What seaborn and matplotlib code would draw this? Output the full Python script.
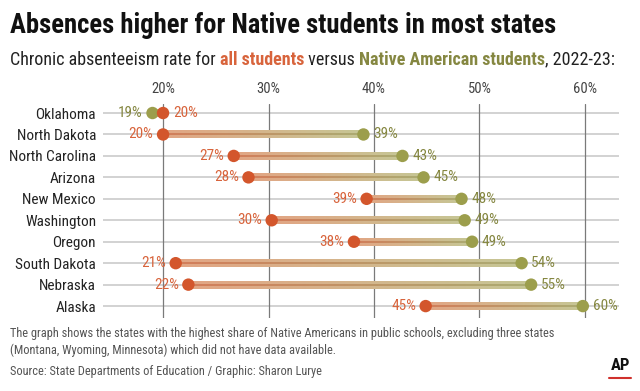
import numpy as np
import pandas as pd
import matplotlib
matplotlib.use("Agg")
import matplotlib.pyplot as plt
from matplotlib import font_manager
from matplotlib.collections import LineCollection
from matplotlib.colors import to_rgb
import seaborn as sns

states = ["Oklahoma", "North Dakota", "North Carolina", "Arizona", "New Mexico",
          "Washington", "Oregon", "South Dakota", "Nebraska", "Alaska"]
all_students = [20.0, 20.0, 26.7, 28.1, 39.3, 30.3, 38.1, 21.2, 22.4, 44.9]
native_students = [19.0, 39.0, 42.7, 44.7, 48.3, 48.6, 49.3, 54.0, 54.9, 59.8]
ticks = [20, 30, 40, 50, 60]

ORANGE = "#d3562c"
GREEN = "#9c9e4c"
ORANGE_TXT = "#d8643c"
GREEN_TXT = "#858741"

# pick a condensed face if one is installed
available = {f.name for f in font_manager.fontManager.ttflist}
FONT = "Roboto"
for cand in ["Roboto Condensed", "Barlow Semi Condensed", "Fira Sans Condensed",
             "IBM Plex Sans Condensed", "Archivo Narrow", "Asap Condensed",
             "Liberation Sans Narrow"]:
    if cand in available:
        FONT = cand
        break

sns.set_theme(style="white")
plt.rcParams["font.family"] = [FONT, "DejaVu Sans"]

df = pd.DataFrame({"state": states, "all": all_students, "native": native_students})
df["row"] = range(len(df))

fig = plt.figure(figsize=(6.4, 3.91), dpi=100)
ax = fig.add_axes([0.161, 0.187, 0.806, 0.547])

# background grid
for r in df["row"]:
    ax.axhline(r, color="#cfcfcf", lw=1.3, zorder=0)
for t in ticks:
    ax.axvline(t, color="#7a7a7a", lw=0.9, zorder=1)

# gradient connector bars (opaque, pre-blended colours)
o_out, g_out = np.array(to_rgb("#e2a483")), np.array(to_rgb("#c6c594"))
o_in, g_in = np.array(to_rgb("#d27d5a")), np.array(to_rgb("#abab72"))
for _, d in df.iterrows():
    xs = np.linspace(d["all"], d["native"], 80)
    segs = [[(xs[i], d["row"]), (xs[i + 1], d["row"])] for i in range(len(xs) - 1)]
    fr = np.linspace(0, 1, len(segs))[:, None]
    ax.add_collection(LineCollection(segs, colors=o_out * (1 - fr) + g_out * fr,
                                     linewidths=4.5, zorder=2, capstyle="projecting",
                                     antialiased=False))
    ax.add_collection(LineCollection(segs, colors=o_in * (1 - fr) + g_in * fr,
                                     linewidths=1.4, zorder=2, capstyle="projecting",
                                     antialiased=False))

sns.scatterplot(data=df, x="native", y="row", color=GREEN, s=80, edgecolor="none",
                ax=ax, zorder=3, legend=False)
sns.scatterplot(data=df, x="all", y="row", color=ORANGE, s=80, edgecolor="none",
                ax=ax, zorder=4, legend=False)

for _, d in df.iterrows():
    right_native = d["native"] >= d["all"]
    ax.annotate(f"{int(d['all'] + 0.5)}%", (d["all"], d["row"]),
                xytext=(-7 if right_native else 7, 0), textcoords="offset points",
                ha="right" if right_native else "left", va="center",
                color=ORANGE_TXT, fontsize=11)
    ax.annotate(f"{int(d['native'] + 0.5)}%", (d["native"], d["row"]),
                xytext=(7 if right_native else -7, 0), textcoords="offset points",
                ha="left" if right_native else "right", va="center",
                color=GREEN_TXT, fontsize=11)

ax.set_xlim(14.31, 63.22)
ax.set_ylim(9.55, -0.42)
ax.set_xticks(ticks)
ax.set_xticklabels([f"{t}%" for t in ticks])
ax.xaxis.tick_top()
ax.tick_params(axis="x", length=0, pad=6, labelsize=10.5, labelcolor="#444444")
ax.set_yticks(df["row"])
ax.set_yticklabels(states)
ax.tick_params(axis="y", length=0, pad=5, labelsize=11, labelcolor="#222222")
ax.set_xlabel("")
ax.set_ylabel("")
for s in ax.spines.values():
    s.set_visible(False)

fig.text(0.016, 0.935, "Absences higher for Native students in most states",
         fontsize=19.2, fontweight="bold", color="#111111", va="center")

# subtitle with coloured words
sub_parts = [("Chronic absenteeism rate for ", "#222222", "normal"),
             ("all students", ORANGE_TXT, "bold"),
             (" versus ", "#222222", "normal"),
             ("Native American students", GREEN_TXT, "bold"),
             (", 2022-23:", "#222222", "normal")]
fig.canvas.draw()
renderer = fig.canvas.get_renderer()
x = 0.016
for txt, col, w in sub_parts:
    t = fig.text(x, 0.847, txt, fontsize=13, color=col, fontweight=w, va="center")
    bb = t.get_window_extent(renderer=renderer)
    x += bb.width / fig.bbox.width

fig.text(0.016, 0.148, "The graph shows the states with the highest share of Native Americans in public schools, excluding three states",
         fontsize=8.9, color="#555555", va="center")
fig.text(0.016, 0.104, "(Montana, Wyoming, Minnesota) which did not have data available.",
         fontsize=8.9, color="#555555", va="center")
fig.text(0.016, 0.051, "Source: State Departments of Education / Graphic: Sharon Lurye",
         fontsize=8.9, color="#555555", va="center")

fig.text(0.969, 0.066, "AP", fontsize=12, fontweight="bold", color="#111111",
         ha="center", va="center")
fig.add_artist(plt.Line2D([0.952, 0.986], [0.033, 0.033], color="#d0312d", lw=1.5,
                          transform=fig.transFigure))

fig.savefig("out.png", dpi=100, facecolor="white")
